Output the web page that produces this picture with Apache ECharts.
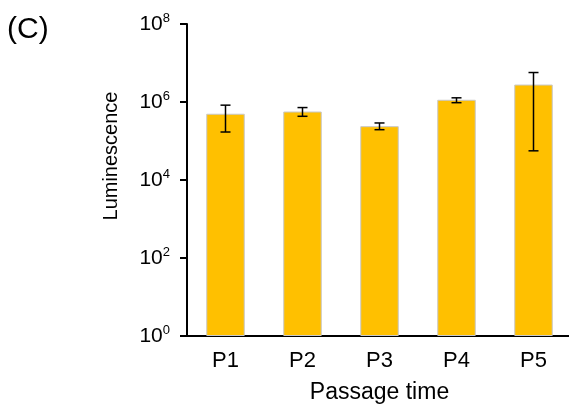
<!DOCTYPE html>
<html><head><meta charset="utf-8">
<script src="https://cdn.jsdelivr.net/npm/echarts@6/dist/echarts.min.js"></script>
<style>html,body{margin:0;padding:0;background:#fff}#c{width:569px;height:405px}</style>
</head><body><div id="c"></div>
<script>
const categories = ['P1','P2','P3','P4','P5'];
const means = [5.0e5, 5.7e5, 2.4e5, 1.14e6, 2.8e6];
const errLow = [1.7e5, 4.3e5, 1.95e5, 9.6e5, 5.6e4];
const errHigh = [8.3e5, 7.2e5, 2.9e5, 1.28e6, 5.7e6];
const yTickExps = [0, 2, 4, 6, 8];

const chart = echarts.init(document.getElementById('c'), null, {renderer:'canvas'});
const font = 'Liberation Sans, Arial, sans-serif';
chart.setOption({
  animation: false,
  textStyle: {fontFamily: font},
  graphic: [{type:'text', left: 7, top: 15, style:{text:'(C)', font:'30px ' + font, fill:'#000'}}],
  grid: {left: 187, top: 24, width: 385, bottom: 69, containLabel: false, outerBoundsMode: 'none'},
  xAxis: {
    type: 'category', data: categories,
    axisLine: {lineStyle: {color:'#000', width: 2}},
    axisTick: {show: false},
    axisLabel: {color:'#000', fontSize: 22, margin: 14, fontFamily: font},
    name: 'Passage time', nameLocation: 'middle', nameGap: 45,
    nameTextStyle: {color:'#000', fontSize: 23, fontFamily: font}
  },
  yAxis: {
    type: 'log', logBase: 10, min: 1, max: 1e8, interval: 2,
    axisLine: {show: true, lineStyle: {color:'#000', width: 2}},
    axisTick: {show: true, length: 7, lineStyle: {color:'#000', width: 2}},
    splitLine: {show: false},
    minorTick: {show: false},
    axisLabel: {
      margin: 17, color:'#000',
      formatter: function(v){ const e = Math.round(Math.log10(v)); return yTickExps.indexOf(e) >= 0 ? '{b|10}{s|' + e + '}' : ''; },
      rich: {
        b: {fontSize: 21, fontFamily: font, color:'#000', lineHeight: 24},
        s: {fontSize: 13, fontFamily: font, color:'#000', verticalAlign: 'top', lineHeight: 24, padding: [0,0,10,0]}
      }
    },
    name: 'Luminescence', nameLocation: 'middle', nameGap: 66,
    nameTextStyle: {color:'#000', fontSize: 20, fontFamily: font, padding: [0, 0, 0, 48]}
  },
  series: [
    {
      type: 'bar', data: means, barWidth: '50%',
      itemStyle: {color:'#FFC000', borderColor:'#c8c8c8', borderWidth: 1}
    },
    {
      type: 'custom',
      data: categories.map((c, i) => [i, errLow[i], errHigh[i]]),
      renderItem: function(params, api){
        const i = api.value(0);
        const lo = api.coord([i, api.value(1)]);
        const hi = api.coord([i, api.value(2)]);
        const hw = 5;
        const st = {stroke:'#000', lineWidth: 1.5};
        return {type:'group', children:[
          {type:'line', shape:{x1:lo[0], y1:lo[1], x2:hi[0], y2:hi[1]}, style: st},
          {type:'line', shape:{x1:lo[0]-hw, y1:lo[1], x2:lo[0]+hw, y2:lo[1]}, style: st},
          {type:'line', shape:{x1:hi[0]-hw, y1:hi[1], x2:hi[0]+hw, y2:hi[1]}, style: st}
        ]};
      },
      z: 3
    }
  ]
});
</script></body></html>
